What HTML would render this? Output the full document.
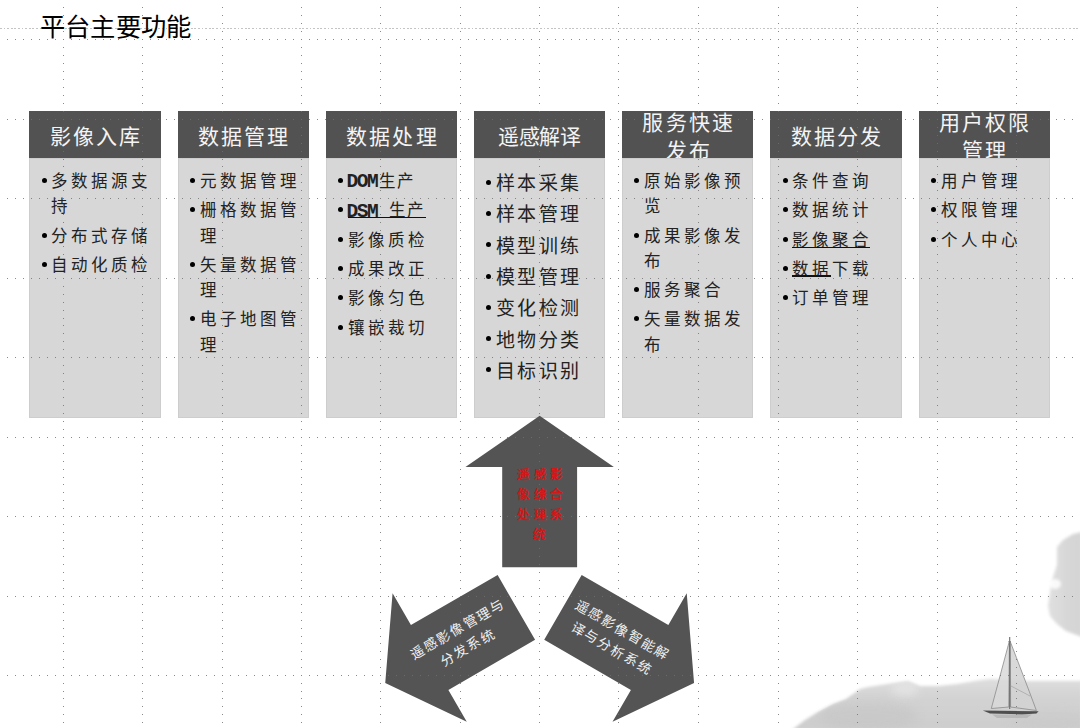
<!DOCTYPE html><html lang="zh-CN"><head><meta charset="utf-8"><title>平台主要功能</title><style>
*{margin:0;padding:0;box-sizing:border-box}
html,body{width:1080px;height:728px;overflow:hidden;background:#fff}
body{position:relative;font-family:"Liberation Sans", sans-serif}
.a{position:absolute}
.hd{position:absolute;background:#525252}
.bd{position:absolute;background:#d7d7d7;border:1px solid #cdcdcd}
.j{position:absolute;white-space:nowrap;text-align:justify;text-align-last:justify;font-family:"Liberation Sans", sans-serif}
.h{color:#f4f4f4;font-size:21px;letter-spacing:2.2px;line-height:28px}
.t{color:#222}
.bu{position:absolute;width:5px;height:5px;border-radius:50%;background:#000}
.m{font-family:"Liberation Mono", monospace;font-weight:bold;letter-spacing:-1.5px;font-size:19.5px}
.u{position:absolute;height:1.5px;background:#111}
.title{position:absolute;left:39.6px;top:12.4px;font-size:25.3px;line-height:30px;color:#000}
.w{color:#f0f0f0;font-size:13.5px;letter-spacing:1.6px;line-height:21px}
.r{color:#d01818;font-size:12.5px;letter-spacing:3.5px;line-height:20px;font-weight:bold}
</style></head><body>
<svg class="a" style="left:0;top:0" width="1080" height="728" viewBox="0 0 1080 728">
<defs><filter id="bl" x="-20%" y="-20%" width="140%" height="140%"><feGaussianBlur stdDeviation="1.6"/></filter>
<filter id="bl2" x="-20%" y="-20%" width="140%" height="140%"><feGaussianBlur stdDeviation="0.6"/></filter>
<linearGradient id="gg" x1="0" y1="0" x2="0" y2="1"><stop offset="0" stop-color="#dedede"/><stop offset="0.35" stop-color="#d3d3d3"/><stop offset="1" stop-color="#cdcdcd"/></linearGradient>
<linearGradient id="gm" x1="0" y1="0" x2="1" y2="0"><stop offset="0" stop-color="#e0e0e0"/><stop offset="0.5" stop-color="#d8d8d8"/><stop offset="1" stop-color="#d4d4d4"/></linearGradient></defs>
<path filter="url(#bl)" fill="url(#gg)" d="M792 730 L805 720 L818 712 L833 704 L846 699 L860 689 L868 687 L894 683 L908 681 L920 686 L938 686 L957 684 L975 681 L990 679 L1027 681 L1082 681 L1082 730 Z"/>
<filter id="bl6" x="-50%" y="-50%" width="200%" height="200%"><feGaussianBlur stdDeviation="5"/></filter>
<clipPath id="gc"><path d="M792 730 L805 720 L818 712 L833 704 L846 699 L860 689 L868 687 L894 683 L908 681 L920 686 L938 686 L957 684 L975 681 L990 679 L1027 681 L1082 681 L1082 730 Z"/></clipPath>
<g clip-path="url(#gc)">
<ellipse cx="868" cy="716" rx="50" ry="14" fill="#c4c4c4" opacity="0.55" filter="url(#bl6)"/>
<ellipse cx="905" cy="689" rx="14" ry="7" fill="#e6e6e6" opacity="0.8" filter="url(#bl6)"/>
<ellipse cx="1050" cy="722" rx="40" ry="10" fill="#c8c8c8" opacity="0.5" filter="url(#bl6)"/>
</g>
<path filter="url(#bl)" fill="url(#gm)" d="M1082 532 L1073 534 L1063 540 L1057 547 L1057 565 L1053 577 L1050 592 L1048 606 L1050 616 L1057 624 L1066 631 L1082 637 Z"/>
<ellipse cx="1055" cy="584" rx="6" ry="5" fill="#fff" opacity="0.85" filter="url(#bl)"/>
<g filter="url(#bl2)">
<path fill="#d9d9d9" fill-opacity="0.85" stroke="#8a8a8a" stroke-width="0.8" d="M1009.4 641 L991.3 708.5 L1008.8 707 Z"/>
<path fill="#d2d2d2" fill-opacity="0.85" stroke="#8a8a8a" stroke-width="0.8" d="M1010.4 642 Q1022 672 1036.4 710.5 L1010.6 707 Z"/>
<path fill="none" stroke="#9a9a9a" stroke-width="0.6" d="M1011 686 L1030 696"/>
<path fill="none" stroke="#6a6a6a" stroke-width="1.1" d="M1009.7 637 L1009.7 709"/>
<path fill="none" stroke="#777" stroke-width="0.8" d="M1008.5 641.5 L1011 641.5"/>
<path fill="#505050" d="M982.8 710.6 L1038.6 711.2 L1036.5 713.6 L1022 714.4 L990 713.6 Z"/>
<path fill="#a8a8a8" opacity="0.6" d="M992 714.5 L1032 714.5 L1027 718 L997 718 Z"/>
</g>
</svg>
<div class="hd" style="left:29.30px;top:110.7px;width:131.3px;height:48.30px"></div>
<div class="j h" style="left:49.65px;top:122.70px;width:92.80px;font-size:21px;letter-spacing:2.2px;line-height:28.00px">影像入库</div>
<div class="bd" style="left:29.30px;top:157.5px;width:131.3px;height:260.20px"></div>
<div class="bu" style="left:41.60px;top:178.10px"></div>
<div class="j t" style="left:51.30px;top:170.05px;width:97.50px;font-size:16.5px;letter-spacing:3.0px;line-height:23.10px">多数据源支</div>
<div class="j t" style="left:51.30px;top:195.25px;width:19.50px;font-size:16.5px;letter-spacing:3.0px;line-height:23.10px">持</div>
<div class="bu" style="left:41.60px;top:232.60px"></div>
<div class="j t" style="left:51.30px;top:224.55px;width:97.50px;font-size:16.5px;letter-spacing:3.0px;line-height:23.10px">分布式存储</div>
<div class="bu" style="left:41.60px;top:261.90px"></div>
<div class="j t" style="left:51.30px;top:253.85px;width:97.50px;font-size:16.5px;letter-spacing:3.0px;line-height:23.10px">自动化质检</div>
<div class="hd" style="left:177.50px;top:110.7px;width:131.3px;height:48.30px"></div>
<div class="j h" style="left:197.85px;top:122.70px;width:92.80px;font-size:21px;letter-spacing:2.2px;line-height:28.00px">数据管理</div>
<div class="bd" style="left:177.50px;top:157.5px;width:131.3px;height:260.20px"></div>
<div class="bu" style="left:189.80px;top:178.10px"></div>
<div class="j t" style="left:199.50px;top:170.05px;width:97.50px;font-size:16.5px;letter-spacing:3.0px;line-height:23.10px">元数据管理</div>
<div class="bu" style="left:189.80px;top:207.40px"></div>
<div class="j t" style="left:199.50px;top:199.35px;width:97.50px;font-size:16.5px;letter-spacing:3.0px;line-height:23.10px">栅格数据管</div>
<div class="j t" style="left:199.50px;top:224.55px;width:19.50px;font-size:16.5px;letter-spacing:3.0px;line-height:23.10px">理</div>
<div class="bu" style="left:189.80px;top:261.90px"></div>
<div class="j t" style="left:199.50px;top:253.85px;width:97.50px;font-size:16.5px;letter-spacing:3.0px;line-height:23.10px">矢量数据管</div>
<div class="j t" style="left:199.50px;top:279.05px;width:19.50px;font-size:16.5px;letter-spacing:3.0px;line-height:23.10px">理</div>
<div class="bu" style="left:189.80px;top:316.40px"></div>
<div class="j t" style="left:199.50px;top:308.35px;width:97.50px;font-size:16.5px;letter-spacing:3.0px;line-height:23.10px">电子地图管</div>
<div class="j t" style="left:199.50px;top:333.55px;width:19.50px;font-size:16.5px;letter-spacing:3.0px;line-height:23.10px">理</div>
<div class="hd" style="left:325.70px;top:110.7px;width:131.3px;height:48.30px"></div>
<div class="j h" style="left:346.05px;top:122.70px;width:92.80px;font-size:21px;letter-spacing:2.2px;line-height:28.00px">数据处理</div>
<div class="bd" style="left:325.70px;top:157.5px;width:131.3px;height:260.20px"></div>
<div class="bu" style="left:338.00px;top:178.10px"></div>
<div class="j t" style="left:346.50px;top:170.35px;line-height:23.10px;text-align:left;text-align-last:left"><span class="m">DOM</span></div>
<div class="j t" style="left:378.70px;top:170.05px;width:36.60px;font-size:16.5px;letter-spacing:1.8px;line-height:23.10px">生产</div>
<div class="bu" style="left:338.00px;top:207.40px"></div>
<div class="j t" style="left:346.50px;top:199.65px;line-height:23.10px;text-align:left;text-align-last:left"><span class="m">DSM</span></div>
<div class="j t" style="left:389.20px;top:199.35px;width:35.40px;font-size:16.5px;letter-spacing:1.2px;line-height:23.10px">生产</div>
<div class="u" style="left:348.20px;top:216.50px;width:77.7px"></div>
<div class="bu" style="left:338.00px;top:236.70px"></div>
<div class="j t" style="left:347.70px;top:228.65px;width:78.00px;font-size:16.5px;letter-spacing:3.0px;line-height:23.10px">影像质检</div>
<div class="bu" style="left:338.00px;top:266.00px"></div>
<div class="j t" style="left:347.70px;top:257.95px;width:78.00px;font-size:16.5px;letter-spacing:3.0px;line-height:23.10px">成果改正</div>
<div class="bu" style="left:338.00px;top:295.30px"></div>
<div class="j t" style="left:347.70px;top:287.25px;width:78.00px;font-size:16.5px;letter-spacing:3.0px;line-height:23.10px">影像匀色</div>
<div class="bu" style="left:338.00px;top:324.60px"></div>
<div class="j t" style="left:347.70px;top:316.55px;width:78.00px;font-size:16.5px;letter-spacing:3.0px;line-height:23.10px">镶嵌裁切</div>
<div class="hd" style="left:473.90px;top:110.7px;width:131.3px;height:48.30px"></div>
<div class="j h" style="left:498.30px;top:122.70px;width:82.00px;font-size:21px;letter-spacing:-0.5px;line-height:28.00px">遥感解译</div>
<div class="bd" style="left:473.90px;top:157.5px;width:131.3px;height:260.20px"></div>
<div class="bu" style="left:486.20px;top:179.60px"></div>
<div class="j t" style="left:495.90px;top:171.00px;width:85.60px;font-size:19.0px;letter-spacing:2.4px;line-height:26.60px">样本采集</div>
<div class="bu" style="left:486.20px;top:210.90px"></div>
<div class="j t" style="left:495.90px;top:202.30px;width:85.60px;font-size:19.0px;letter-spacing:2.4px;line-height:26.60px">样本管理</div>
<div class="bu" style="left:486.20px;top:242.20px"></div>
<div class="j t" style="left:495.90px;top:233.60px;width:85.60px;font-size:19.0px;letter-spacing:2.4px;line-height:26.60px">模型训练</div>
<div class="bu" style="left:486.20px;top:273.50px"></div>
<div class="j t" style="left:495.90px;top:264.90px;width:85.60px;font-size:19.0px;letter-spacing:2.4px;line-height:26.60px">模型管理</div>
<div class="bu" style="left:486.20px;top:304.80px"></div>
<div class="j t" style="left:495.90px;top:296.20px;width:85.60px;font-size:19.0px;letter-spacing:2.4px;line-height:26.60px">变化检测</div>
<div class="bu" style="left:486.20px;top:336.10px"></div>
<div class="j t" style="left:495.90px;top:327.50px;width:85.60px;font-size:19.0px;letter-spacing:2.4px;line-height:26.60px">地物分类</div>
<div class="bu" style="left:486.20px;top:367.40px"></div>
<div class="j t" style="left:495.90px;top:358.80px;width:85.60px;font-size:19.0px;letter-spacing:2.4px;line-height:26.60px">目标识别</div>
<div class="hd" style="left:622.10px;top:110.7px;width:131.3px;height:48.30px"></div>
<div class="j h" style="left:642.45px;top:108.70px;width:92.80px;font-size:21px;letter-spacing:2.2px;line-height:28.00px">服务快速</div>
<div class="j h" style="left:665.65px;top:136.70px;width:46.40px;font-size:21px;letter-spacing:2.2px;line-height:28.00px">发布</div>
<div class="bd" style="left:622.10px;top:157.5px;width:131.3px;height:260.20px"></div>
<div class="bu" style="left:634.40px;top:178.10px"></div>
<div class="j t" style="left:644.10px;top:170.05px;width:97.50px;font-size:16.5px;letter-spacing:3.0px;line-height:23.10px">原始影像预</div>
<div class="j t" style="left:644.10px;top:195.25px;width:19.50px;font-size:16.5px;letter-spacing:3.0px;line-height:23.10px">览</div>
<div class="bu" style="left:634.40px;top:232.60px"></div>
<div class="j t" style="left:644.10px;top:224.55px;width:97.50px;font-size:16.5px;letter-spacing:3.0px;line-height:23.10px">成果影像发</div>
<div class="j t" style="left:644.10px;top:249.75px;width:19.50px;font-size:16.5px;letter-spacing:3.0px;line-height:23.10px">布</div>
<div class="bu" style="left:634.40px;top:287.10px"></div>
<div class="j t" style="left:644.10px;top:279.05px;width:78.00px;font-size:16.5px;letter-spacing:3.0px;line-height:23.10px">服务聚合</div>
<div class="bu" style="left:634.40px;top:316.40px"></div>
<div class="j t" style="left:644.10px;top:308.35px;width:97.50px;font-size:16.5px;letter-spacing:3.0px;line-height:23.10px">矢量数据发</div>
<div class="j t" style="left:644.10px;top:333.55px;width:19.50px;font-size:16.5px;letter-spacing:3.0px;line-height:23.10px">布</div>
<div class="hd" style="left:770.30px;top:110.7px;width:131.3px;height:48.30px"></div>
<div class="j h" style="left:790.65px;top:122.70px;width:92.80px;font-size:21px;letter-spacing:2.2px;line-height:28.00px">数据分发</div>
<div class="bd" style="left:770.30px;top:157.5px;width:131.3px;height:260.20px"></div>
<div class="bu" style="left:782.60px;top:178.10px"></div>
<div class="j t" style="left:792.30px;top:170.05px;width:78.00px;font-size:16.5px;letter-spacing:3.0px;line-height:23.10px">条件查询</div>
<div class="bu" style="left:782.60px;top:207.40px"></div>
<div class="j t" style="left:792.30px;top:199.35px;width:78.00px;font-size:16.5px;letter-spacing:3.0px;line-height:23.10px">数据统计</div>
<div class="bu" style="left:782.60px;top:236.70px"></div>
<div class="j t" style="left:792.30px;top:228.65px;width:78.00px;font-size:16.5px;letter-spacing:3.0px;line-height:23.10px">影像聚合</div>
<div class="u" style="left:792.30px;top:246.60px;width:78px"></div>
<div class="bu" style="left:782.60px;top:266.00px"></div>
<div class="j t" style="left:792.30px;top:257.95px;width:78.00px;font-size:16.5px;letter-spacing:3.0px;line-height:23.10px">数据下载</div>
<div class="u" style="left:792.30px;top:275.00px;width:38.5px"></div>
<div class="bu" style="left:782.60px;top:295.30px"></div>
<div class="j t" style="left:792.30px;top:287.25px;width:78.00px;font-size:16.5px;letter-spacing:3.0px;line-height:23.10px">订单管理</div>
<div class="hd" style="left:918.50px;top:110.7px;width:131.3px;height:48.30px"></div>
<div class="j h" style="left:938.85px;top:108.70px;width:92.80px;font-size:21px;letter-spacing:2.2px;line-height:28.00px">用户权限</div>
<div class="j h" style="left:962.05px;top:136.70px;width:46.40px;font-size:21px;letter-spacing:2.2px;line-height:28.00px">管理</div>
<div class="bd" style="left:918.50px;top:157.5px;width:131.3px;height:260.20px"></div>
<div class="bu" style="left:930.80px;top:178.10px"></div>
<div class="j t" style="left:940.50px;top:170.05px;width:78.00px;font-size:16.5px;letter-spacing:3.0px;line-height:23.10px">用户管理</div>
<div class="bu" style="left:930.80px;top:207.40px"></div>
<div class="j t" style="left:940.50px;top:199.35px;width:78.00px;font-size:16.5px;letter-spacing:3.0px;line-height:23.10px">权限管理</div>
<div class="bu" style="left:930.80px;top:236.70px"></div>
<div class="j t" style="left:940.50px;top:228.65px;width:78.00px;font-size:16.5px;letter-spacing:3.0px;line-height:23.10px">个人中心</div>
<svg class="a" style="left:0;top:0" width="1080" height="728" viewBox="0 0 1080 728">
<polygon fill="#545454" points="539.65,415.80 613.85,467.10 577.10,467.10 577.10,567.20 502.20,567.20 502.20,467.10 465.45,467.10"/>
<polygon fill="#545454" points="385.24,683.10 392.57,593.19 410.94,625.02 497.63,574.97 535.08,639.83 448.39,689.88 466.77,721.71"/>
<polygon fill="#545454" points="694.06,683.10 612.53,721.71 630.91,689.88 544.22,639.83 581.67,574.97 668.36,625.02 686.73,593.19"/>
</svg>
<div class="j r" style="left:517.35px;top:464.80px;width:48.00px;font-size:12.5px;letter-spacing:3.5px;line-height:20.00px">遥感影</div>
<div class="j r" style="left:517.35px;top:484.80px;width:48.00px;font-size:12.5px;letter-spacing:3.5px;line-height:20.00px">像综合</div>
<div class="j r" style="left:517.35px;top:504.80px;width:48.00px;font-size:12.5px;letter-spacing:3.5px;line-height:20.00px">处理系</div>
<div class="j r" style="left:533.35px;top:524.80px;width:16.00px;font-size:12.5px;letter-spacing:3.5px;line-height:20.00px">统</div>
<div class="a" style="left:392.40px;top:618.20px;width:140px;height:42px;transform:rotate(-30deg)">
<div class="j w" style="left:17.95px;top:0.00px;width:105.70px;font-size:13.5px;letter-spacing:1.6px;line-height:21.00px">遥感影像管理与</div>
<div class="j w" style="left:40.60px;top:21.00px;width:60.40px;font-size:13.5px;letter-spacing:1.6px;line-height:21.00px">分发系统</div>
</div>
<div class="a" style="left:545.90px;top:617.75px;width:140px;height:42px;transform:rotate(30deg)">
<div class="j w" style="left:17.95px;top:0.00px;width:105.70px;font-size:13.5px;letter-spacing:1.6px;line-height:21.00px">遥感影像智能解</div>
<div class="j w" style="left:25.50px;top:21.00px;width:90.60px;font-size:13.5px;letter-spacing:1.6px;line-height:21.00px">译与分析系统</div>
</div>
<svg class="a" style="left:0;top:0" width="1080" height="728" viewBox="0 0 1080 728" shape-rendering="crispEdges">
<line x1="0" y1="28.5" x2="1080" y2="28.5" stroke="#c4c4c4" stroke-width="1" stroke-dasharray="1.8 1.8"/>
<path fill="#6f6f6f" fill-opacity="0.815" d="M7 39h1v1h-1zM7 119h1v1h-1zM7 198h1v1h-1zM7 278h1v1h-1zM7 357h1v1h-1zM7 437h1v1h-1zM7 516h1v1h-1zM7 596h1v1h-1zM7 675h1v1h-1zM15 39h1v1h-1zM15 119h1v1h-1zM15 198h1v1h-1zM15 278h1v1h-1zM15 357h1v1h-1zM15 437h1v1h-1zM15 516h1v1h-1zM15 596h1v1h-1zM15 675h1v1h-1zM23 39h1v1h-1zM23 119h1v1h-1zM23 198h1v1h-1zM23 278h1v1h-1zM23 357h1v1h-1zM23 437h1v1h-1zM23 516h1v1h-1zM23 596h1v1h-1zM23 675h1v1h-1zM31 39h1v1h-1zM31 119h1v1h-1zM31 198h1v1h-1zM31 278h1v1h-1zM31 357h1v1h-1zM31 437h1v1h-1zM31 516h1v1h-1zM31 596h1v1h-1zM31 675h1v1h-1zM39 39h1v1h-1zM39 119h1v1h-1zM39 198h1v1h-1zM39 278h1v1h-1zM39 357h1v1h-1zM39 437h1v1h-1zM39 516h1v1h-1zM39 596h1v1h-1zM39 675h1v1h-1zM47 39h1v1h-1zM47 119h1v1h-1zM47 198h1v1h-1zM47 278h1v1h-1zM47 357h1v1h-1zM47 437h1v1h-1zM47 516h1v1h-1zM47 596h1v1h-1zM47 675h1v1h-1zM55 39h1v1h-1zM55 119h1v1h-1zM55 198h1v1h-1zM55 278h1v1h-1zM55 357h1v1h-1zM55 437h1v1h-1zM55 516h1v1h-1zM55 596h1v1h-1zM55 675h1v1h-1zM63 7h1v1h-1zM63 15h1v1h-1zM63 23h1v1h-1zM63 31h1v1h-1zM63 39h1v1h-1zM63 47h1v1h-1zM63 55h1v1h-1zM63 63h1v1h-1zM63 71h1v1h-1zM63 79h1v1h-1zM63 87h1v1h-1zM63 95h1v1h-1zM63 103h1v1h-1zM63 111h1v1h-1zM63 119h1v1h-1zM63 127h1v1h-1zM63 135h1v1h-1zM63 143h1v1h-1zM63 151h1v1h-1zM63 159h1v1h-1zM63 166h1v1h-1zM63 174h1v1h-1zM63 182h1v1h-1zM63 190h1v1h-1zM63 198h1v1h-1zM63 206h1v1h-1zM63 214h1v1h-1zM63 222h1v1h-1zM63 230h1v1h-1zM63 238h1v1h-1zM63 246h1v1h-1zM63 254h1v1h-1zM63 262h1v1h-1zM63 270h1v1h-1zM63 278h1v1h-1zM63 286h1v1h-1zM63 294h1v1h-1zM63 302h1v1h-1zM63 310h1v1h-1zM63 318h1v1h-1zM63 325h1v1h-1zM63 333h1v1h-1zM63 341h1v1h-1zM63 349h1v1h-1zM63 357h1v1h-1zM63 365h1v1h-1zM63 373h1v1h-1zM63 381h1v1h-1zM63 389h1v1h-1zM63 397h1v1h-1zM63 405h1v1h-1zM63 413h1v1h-1zM63 421h1v1h-1zM63 429h1v1h-1zM63 437h1v1h-1zM63 445h1v1h-1zM63 453h1v1h-1zM63 461h1v1h-1zM63 469h1v1h-1zM63 477h1v1h-1zM63 484h1v1h-1zM63 492h1v1h-1zM63 500h1v1h-1zM63 508h1v1h-1zM63 516h1v1h-1zM63 524h1v1h-1zM63 532h1v1h-1zM63 540h1v1h-1zM63 548h1v1h-1zM63 556h1v1h-1zM63 564h1v1h-1zM63 572h1v1h-1zM63 580h1v1h-1zM63 588h1v1h-1zM63 596h1v1h-1zM63 604h1v1h-1zM63 612h1v1h-1zM63 620h1v1h-1zM63 628h1v1h-1zM63 636h1v1h-1zM63 643h1v1h-1zM63 651h1v1h-1zM63 659h1v1h-1zM63 667h1v1h-1zM63 675h1v1h-1zM63 683h1v1h-1zM63 691h1v1h-1zM63 698h1v1h-1zM63 706h1v1h-1zM63 714h1v1h-1zM63 722h1v1h-1zM71 39h1v1h-1zM71 119h1v1h-1zM71 198h1v1h-1zM71 278h1v1h-1zM71 357h1v1h-1zM71 437h1v1h-1zM71 516h1v1h-1zM71 596h1v1h-1zM71 675h1v1h-1zM79 39h1v1h-1zM79 119h1v1h-1zM79 198h1v1h-1zM79 278h1v1h-1zM79 357h1v1h-1zM79 437h1v1h-1zM79 516h1v1h-1zM79 596h1v1h-1zM79 675h1v1h-1zM87 39h1v1h-1zM87 119h1v1h-1zM87 198h1v1h-1zM87 278h1v1h-1zM87 357h1v1h-1zM87 437h1v1h-1zM87 516h1v1h-1zM87 596h1v1h-1zM87 675h1v1h-1zM95 39h1v1h-1zM95 119h1v1h-1zM95 198h1v1h-1zM95 278h1v1h-1zM95 357h1v1h-1zM95 437h1v1h-1zM95 516h1v1h-1zM95 596h1v1h-1zM95 675h1v1h-1zM103 39h1v1h-1zM103 119h1v1h-1zM103 198h1v1h-1zM103 278h1v1h-1zM103 357h1v1h-1zM103 437h1v1h-1zM103 516h1v1h-1zM103 596h1v1h-1zM103 675h1v1h-1zM110 39h1v1h-1zM110 119h1v1h-1zM110 198h1v1h-1zM110 278h1v1h-1zM110 357h1v1h-1zM110 437h1v1h-1zM110 516h1v1h-1zM110 596h1v1h-1zM110 675h1v1h-1zM118 39h1v1h-1zM118 119h1v1h-1zM118 198h1v1h-1zM118 278h1v1h-1zM118 357h1v1h-1zM118 437h1v1h-1zM118 516h1v1h-1zM118 596h1v1h-1zM118 675h1v1h-1zM126 39h1v1h-1zM126 119h1v1h-1zM126 198h1v1h-1zM126 278h1v1h-1zM126 357h1v1h-1zM126 437h1v1h-1zM126 516h1v1h-1zM126 596h1v1h-1zM126 675h1v1h-1zM134 39h1v1h-1zM134 119h1v1h-1zM134 198h1v1h-1zM134 278h1v1h-1zM134 357h1v1h-1zM134 437h1v1h-1zM134 516h1v1h-1zM134 596h1v1h-1zM134 675h1v1h-1zM142 7h1v1h-1zM142 15h1v1h-1zM142 23h1v1h-1zM142 31h1v1h-1zM142 39h1v1h-1zM142 47h1v1h-1zM142 55h1v1h-1zM142 63h1v1h-1zM142 71h1v1h-1zM142 79h1v1h-1zM142 87h1v1h-1zM142 95h1v1h-1zM142 103h1v1h-1zM142 111h1v1h-1zM142 119h1v1h-1zM142 127h1v1h-1zM142 135h1v1h-1zM142 143h1v1h-1zM142 151h1v1h-1zM142 159h1v1h-1zM142 166h1v1h-1zM142 174h1v1h-1zM142 182h1v1h-1zM142 190h1v1h-1zM142 198h1v1h-1zM142 206h1v1h-1zM142 214h1v1h-1zM142 222h1v1h-1zM142 230h1v1h-1zM142 238h1v1h-1zM142 246h1v1h-1zM142 254h1v1h-1zM142 262h1v1h-1zM142 270h1v1h-1zM142 278h1v1h-1zM142 286h1v1h-1zM142 294h1v1h-1zM142 302h1v1h-1zM142 310h1v1h-1zM142 318h1v1h-1zM142 325h1v1h-1zM142 333h1v1h-1zM142 341h1v1h-1zM142 349h1v1h-1zM142 357h1v1h-1zM142 365h1v1h-1zM142 373h1v1h-1zM142 381h1v1h-1zM142 389h1v1h-1zM142 397h1v1h-1zM142 405h1v1h-1zM142 413h1v1h-1zM142 421h1v1h-1zM142 429h1v1h-1zM142 437h1v1h-1zM142 445h1v1h-1zM142 453h1v1h-1zM142 461h1v1h-1zM142 469h1v1h-1zM142 477h1v1h-1zM142 484h1v1h-1zM142 492h1v1h-1zM142 500h1v1h-1zM142 508h1v1h-1zM142 516h1v1h-1zM142 524h1v1h-1zM142 532h1v1h-1zM142 540h1v1h-1zM142 548h1v1h-1zM142 556h1v1h-1zM142 564h1v1h-1zM142 572h1v1h-1zM142 580h1v1h-1zM142 588h1v1h-1zM142 596h1v1h-1zM142 604h1v1h-1zM142 612h1v1h-1zM142 620h1v1h-1zM142 628h1v1h-1zM142 636h1v1h-1zM142 643h1v1h-1zM142 651h1v1h-1zM142 659h1v1h-1zM142 667h1v1h-1zM142 675h1v1h-1zM142 683h1v1h-1zM142 691h1v1h-1zM142 698h1v1h-1zM142 706h1v1h-1zM142 714h1v1h-1zM142 722h1v1h-1zM150 39h1v1h-1zM150 119h1v1h-1zM150 198h1v1h-1zM150 278h1v1h-1zM150 357h1v1h-1zM150 437h1v1h-1zM150 516h1v1h-1zM150 596h1v1h-1zM150 675h1v1h-1zM158 39h1v1h-1zM158 119h1v1h-1zM158 198h1v1h-1zM158 278h1v1h-1zM158 357h1v1h-1zM158 437h1v1h-1zM158 516h1v1h-1zM158 596h1v1h-1zM158 675h1v1h-1zM166 39h1v1h-1zM166 119h1v1h-1zM166 198h1v1h-1zM166 278h1v1h-1zM166 357h1v1h-1zM166 437h1v1h-1zM166 516h1v1h-1zM166 596h1v1h-1zM166 675h1v1h-1zM174 39h1v1h-1zM174 119h1v1h-1zM174 198h1v1h-1zM174 278h1v1h-1zM174 357h1v1h-1zM174 437h1v1h-1zM174 516h1v1h-1zM174 596h1v1h-1zM174 675h1v1h-1zM182 39h1v1h-1zM182 119h1v1h-1zM182 198h1v1h-1zM182 278h1v1h-1zM182 357h1v1h-1zM182 437h1v1h-1zM182 516h1v1h-1zM182 596h1v1h-1zM182 675h1v1h-1zM190 39h1v1h-1zM190 119h1v1h-1zM190 198h1v1h-1zM190 278h1v1h-1zM190 357h1v1h-1zM190 437h1v1h-1zM190 516h1v1h-1zM190 596h1v1h-1zM190 675h1v1h-1zM198 39h1v1h-1zM198 119h1v1h-1zM198 198h1v1h-1zM198 278h1v1h-1zM198 357h1v1h-1zM198 437h1v1h-1zM198 516h1v1h-1zM198 596h1v1h-1zM198 675h1v1h-1zM206 39h1v1h-1zM206 119h1v1h-1zM206 198h1v1h-1zM206 278h1v1h-1zM206 357h1v1h-1zM206 437h1v1h-1zM206 516h1v1h-1zM206 596h1v1h-1zM206 675h1v1h-1zM214 39h1v1h-1zM214 119h1v1h-1zM214 198h1v1h-1zM214 278h1v1h-1zM214 357h1v1h-1zM214 437h1v1h-1zM214 516h1v1h-1zM214 596h1v1h-1zM214 675h1v1h-1zM222 7h1v1h-1zM222 15h1v1h-1zM222 23h1v1h-1zM222 31h1v1h-1zM222 39h1v1h-1zM222 47h1v1h-1zM222 55h1v1h-1zM222 63h1v1h-1zM222 71h1v1h-1zM222 79h1v1h-1zM222 87h1v1h-1zM222 95h1v1h-1zM222 103h1v1h-1zM222 111h1v1h-1zM222 119h1v1h-1zM222 127h1v1h-1zM222 135h1v1h-1zM222 143h1v1h-1zM222 151h1v1h-1zM222 159h1v1h-1zM222 166h1v1h-1zM222 174h1v1h-1zM222 182h1v1h-1zM222 190h1v1h-1zM222 198h1v1h-1zM222 206h1v1h-1zM222 214h1v1h-1zM222 222h1v1h-1zM222 230h1v1h-1zM222 238h1v1h-1zM222 246h1v1h-1zM222 254h1v1h-1zM222 262h1v1h-1zM222 270h1v1h-1zM222 278h1v1h-1zM222 286h1v1h-1zM222 294h1v1h-1zM222 302h1v1h-1zM222 310h1v1h-1zM222 318h1v1h-1zM222 325h1v1h-1zM222 333h1v1h-1zM222 341h1v1h-1zM222 349h1v1h-1zM222 357h1v1h-1zM222 365h1v1h-1zM222 373h1v1h-1zM222 381h1v1h-1zM222 389h1v1h-1zM222 397h1v1h-1zM222 405h1v1h-1zM222 413h1v1h-1zM222 421h1v1h-1zM222 429h1v1h-1zM222 437h1v1h-1zM222 445h1v1h-1zM222 453h1v1h-1zM222 461h1v1h-1zM222 469h1v1h-1zM222 477h1v1h-1zM222 484h1v1h-1zM222 492h1v1h-1zM222 500h1v1h-1zM222 508h1v1h-1zM222 516h1v1h-1zM222 524h1v1h-1zM222 532h1v1h-1zM222 540h1v1h-1zM222 548h1v1h-1zM222 556h1v1h-1zM222 564h1v1h-1zM222 572h1v1h-1zM222 580h1v1h-1zM222 588h1v1h-1zM222 596h1v1h-1zM222 604h1v1h-1zM222 612h1v1h-1zM222 620h1v1h-1zM222 628h1v1h-1zM222 636h1v1h-1zM222 643h1v1h-1zM222 651h1v1h-1zM222 659h1v1h-1zM222 667h1v1h-1zM222 675h1v1h-1zM222 683h1v1h-1zM222 691h1v1h-1zM222 698h1v1h-1zM222 706h1v1h-1zM222 714h1v1h-1zM222 722h1v1h-1zM230 39h1v1h-1zM230 119h1v1h-1zM230 198h1v1h-1zM230 278h1v1h-1zM230 357h1v1h-1zM230 437h1v1h-1zM230 516h1v1h-1zM230 596h1v1h-1zM230 675h1v1h-1zM238 39h1v1h-1zM238 119h1v1h-1zM238 198h1v1h-1zM238 278h1v1h-1zM238 357h1v1h-1zM238 437h1v1h-1zM238 516h1v1h-1zM238 596h1v1h-1zM238 675h1v1h-1zM246 39h1v1h-1zM246 119h1v1h-1zM246 198h1v1h-1zM246 278h1v1h-1zM246 357h1v1h-1zM246 437h1v1h-1zM246 516h1v1h-1zM246 596h1v1h-1zM246 675h1v1h-1zM254 39h1v1h-1zM254 119h1v1h-1zM254 198h1v1h-1zM254 278h1v1h-1zM254 357h1v1h-1zM254 437h1v1h-1zM254 516h1v1h-1zM254 596h1v1h-1zM254 675h1v1h-1zM262 39h1v1h-1zM262 119h1v1h-1zM262 198h1v1h-1zM262 278h1v1h-1zM262 357h1v1h-1zM262 437h1v1h-1zM262 516h1v1h-1zM262 596h1v1h-1zM262 675h1v1h-1zM269 39h1v1h-1zM269 119h1v1h-1zM269 198h1v1h-1zM269 278h1v1h-1zM269 357h1v1h-1zM269 437h1v1h-1zM269 516h1v1h-1zM269 596h1v1h-1zM269 675h1v1h-1zM277 39h1v1h-1zM277 119h1v1h-1zM277 198h1v1h-1zM277 278h1v1h-1zM277 357h1v1h-1zM277 437h1v1h-1zM277 516h1v1h-1zM277 596h1v1h-1zM277 675h1v1h-1zM285 39h1v1h-1zM285 119h1v1h-1zM285 198h1v1h-1zM285 278h1v1h-1zM285 357h1v1h-1zM285 437h1v1h-1zM285 516h1v1h-1zM285 596h1v1h-1zM285 675h1v1h-1zM293 39h1v1h-1zM293 119h1v1h-1zM293 198h1v1h-1zM293 278h1v1h-1zM293 357h1v1h-1zM293 437h1v1h-1zM293 516h1v1h-1zM293 596h1v1h-1zM293 675h1v1h-1zM301 7h1v1h-1zM301 15h1v1h-1zM301 23h1v1h-1zM301 31h1v1h-1zM301 39h1v1h-1zM301 47h1v1h-1zM301 55h1v1h-1zM301 63h1v1h-1zM301 71h1v1h-1zM301 79h1v1h-1zM301 87h1v1h-1zM301 95h1v1h-1zM301 103h1v1h-1zM301 111h1v1h-1zM301 119h1v1h-1zM301 127h1v1h-1zM301 135h1v1h-1zM301 143h1v1h-1zM301 151h1v1h-1zM301 159h1v1h-1zM301 166h1v1h-1zM301 174h1v1h-1zM301 182h1v1h-1zM301 190h1v1h-1zM301 198h1v1h-1zM301 206h1v1h-1zM301 214h1v1h-1zM301 222h1v1h-1zM301 230h1v1h-1zM301 238h1v1h-1zM301 246h1v1h-1zM301 254h1v1h-1zM301 262h1v1h-1zM301 270h1v1h-1zM301 278h1v1h-1zM301 286h1v1h-1zM301 294h1v1h-1zM301 302h1v1h-1zM301 310h1v1h-1zM301 318h1v1h-1zM301 325h1v1h-1zM301 333h1v1h-1zM301 341h1v1h-1zM301 349h1v1h-1zM301 357h1v1h-1zM301 365h1v1h-1zM301 373h1v1h-1zM301 381h1v1h-1zM301 389h1v1h-1zM301 397h1v1h-1zM301 405h1v1h-1zM301 413h1v1h-1zM301 421h1v1h-1zM301 429h1v1h-1zM301 437h1v1h-1zM301 445h1v1h-1zM301 453h1v1h-1zM301 461h1v1h-1zM301 469h1v1h-1zM301 477h1v1h-1zM301 484h1v1h-1zM301 492h1v1h-1zM301 500h1v1h-1zM301 508h1v1h-1zM301 516h1v1h-1zM301 524h1v1h-1zM301 532h1v1h-1zM301 540h1v1h-1zM301 548h1v1h-1zM301 556h1v1h-1zM301 564h1v1h-1zM301 572h1v1h-1zM301 580h1v1h-1zM301 588h1v1h-1zM301 596h1v1h-1zM301 604h1v1h-1zM301 612h1v1h-1zM301 620h1v1h-1zM301 628h1v1h-1zM301 636h1v1h-1zM301 643h1v1h-1zM301 651h1v1h-1zM301 659h1v1h-1zM301 667h1v1h-1zM301 675h1v1h-1zM301 683h1v1h-1zM301 691h1v1h-1zM301 698h1v1h-1zM301 706h1v1h-1zM301 714h1v1h-1zM301 722h1v1h-1zM309 39h1v1h-1zM309 119h1v1h-1zM309 198h1v1h-1zM309 278h1v1h-1zM309 357h1v1h-1zM309 437h1v1h-1zM309 516h1v1h-1zM309 596h1v1h-1zM309 675h1v1h-1zM317 39h1v1h-1zM317 119h1v1h-1zM317 198h1v1h-1zM317 278h1v1h-1zM317 357h1v1h-1zM317 437h1v1h-1zM317 516h1v1h-1zM317 596h1v1h-1zM317 675h1v1h-1zM325 39h1v1h-1zM325 119h1v1h-1zM325 198h1v1h-1zM325 278h1v1h-1zM325 357h1v1h-1zM325 437h1v1h-1zM325 516h1v1h-1zM325 596h1v1h-1zM325 675h1v1h-1zM333 39h1v1h-1zM333 119h1v1h-1zM333 198h1v1h-1zM333 278h1v1h-1zM333 357h1v1h-1zM333 437h1v1h-1zM333 516h1v1h-1zM333 596h1v1h-1zM333 675h1v1h-1zM341 39h1v1h-1zM341 119h1v1h-1zM341 198h1v1h-1zM341 278h1v1h-1zM341 357h1v1h-1zM341 437h1v1h-1zM341 516h1v1h-1zM341 596h1v1h-1zM341 675h1v1h-1zM348 39h1v1h-1zM348 119h1v1h-1zM348 198h1v1h-1zM348 278h1v1h-1zM348 357h1v1h-1zM348 437h1v1h-1zM348 516h1v1h-1zM348 596h1v1h-1zM348 675h1v1h-1zM356 39h1v1h-1zM356 119h1v1h-1zM356 198h1v1h-1zM356 278h1v1h-1zM356 357h1v1h-1zM356 437h1v1h-1zM356 516h1v1h-1zM356 596h1v1h-1zM356 675h1v1h-1zM364 39h1v1h-1zM364 119h1v1h-1zM364 198h1v1h-1zM364 278h1v1h-1zM364 357h1v1h-1zM364 437h1v1h-1zM364 516h1v1h-1zM364 596h1v1h-1zM364 675h1v1h-1zM372 39h1v1h-1zM372 119h1v1h-1zM372 198h1v1h-1zM372 278h1v1h-1zM372 357h1v1h-1zM372 437h1v1h-1zM372 516h1v1h-1zM372 596h1v1h-1zM372 675h1v1h-1zM380 7h1v1h-1zM380 15h1v1h-1zM380 23h1v1h-1zM380 31h1v1h-1zM380 39h1v1h-1zM380 47h1v1h-1zM380 55h1v1h-1zM380 63h1v1h-1zM380 71h1v1h-1zM380 79h1v1h-1zM380 87h1v1h-1zM380 95h1v1h-1zM380 103h1v1h-1zM380 111h1v1h-1zM380 119h1v1h-1zM380 127h1v1h-1zM380 135h1v1h-1zM380 143h1v1h-1zM380 151h1v1h-1zM380 159h1v1h-1zM380 166h1v1h-1zM380 174h1v1h-1zM380 182h1v1h-1zM380 190h1v1h-1zM380 198h1v1h-1zM380 206h1v1h-1zM380 214h1v1h-1zM380 222h1v1h-1zM380 230h1v1h-1zM380 238h1v1h-1zM380 246h1v1h-1zM380 254h1v1h-1zM380 262h1v1h-1zM380 270h1v1h-1zM380 278h1v1h-1zM380 286h1v1h-1zM380 294h1v1h-1zM380 302h1v1h-1zM380 310h1v1h-1zM380 318h1v1h-1zM380 325h1v1h-1zM380 333h1v1h-1zM380 341h1v1h-1zM380 349h1v1h-1zM380 357h1v1h-1zM380 365h1v1h-1zM380 373h1v1h-1zM380 381h1v1h-1zM380 389h1v1h-1zM380 397h1v1h-1zM380 405h1v1h-1zM380 413h1v1h-1zM380 421h1v1h-1zM380 429h1v1h-1zM380 437h1v1h-1zM380 445h1v1h-1zM380 453h1v1h-1zM380 461h1v1h-1zM380 469h1v1h-1zM380 477h1v1h-1zM380 484h1v1h-1zM380 492h1v1h-1zM380 500h1v1h-1zM380 508h1v1h-1zM380 516h1v1h-1zM380 524h1v1h-1zM380 532h1v1h-1zM380 540h1v1h-1zM380 548h1v1h-1zM380 556h1v1h-1zM380 564h1v1h-1zM380 572h1v1h-1zM380 580h1v1h-1zM380 588h1v1h-1zM380 596h1v1h-1zM380 604h1v1h-1zM380 612h1v1h-1zM380 620h1v1h-1zM380 628h1v1h-1zM380 636h1v1h-1zM380 643h1v1h-1zM380 651h1v1h-1zM380 659h1v1h-1zM380 667h1v1h-1zM380 675h1v1h-1zM380 683h1v1h-1zM380 691h1v1h-1zM380 698h1v1h-1zM380 706h1v1h-1zM380 714h1v1h-1zM380 722h1v1h-1zM388 39h1v1h-1zM388 119h1v1h-1zM388 198h1v1h-1zM388 278h1v1h-1zM388 357h1v1h-1zM388 437h1v1h-1zM388 516h1v1h-1zM388 596h1v1h-1zM388 675h1v1h-1zM396 39h1v1h-1zM396 119h1v1h-1zM396 198h1v1h-1zM396 278h1v1h-1zM396 357h1v1h-1zM396 437h1v1h-1zM396 516h1v1h-1zM396 596h1v1h-1zM396 675h1v1h-1zM404 39h1v1h-1zM404 119h1v1h-1zM404 198h1v1h-1zM404 278h1v1h-1zM404 357h1v1h-1zM404 437h1v1h-1zM404 516h1v1h-1zM404 596h1v1h-1zM404 675h1v1h-1zM412 39h1v1h-1zM412 119h1v1h-1zM412 198h1v1h-1zM412 278h1v1h-1zM412 357h1v1h-1zM412 437h1v1h-1zM412 516h1v1h-1zM412 596h1v1h-1zM412 675h1v1h-1zM420 39h1v1h-1zM420 119h1v1h-1zM420 198h1v1h-1zM420 278h1v1h-1zM420 357h1v1h-1zM420 437h1v1h-1zM420 516h1v1h-1zM420 596h1v1h-1zM420 675h1v1h-1zM428 39h1v1h-1zM428 119h1v1h-1zM428 198h1v1h-1zM428 278h1v1h-1zM428 357h1v1h-1zM428 437h1v1h-1zM428 516h1v1h-1zM428 596h1v1h-1zM428 675h1v1h-1zM436 39h1v1h-1zM436 119h1v1h-1zM436 198h1v1h-1zM436 278h1v1h-1zM436 357h1v1h-1zM436 437h1v1h-1zM436 516h1v1h-1zM436 596h1v1h-1zM436 675h1v1h-1zM444 39h1v1h-1zM444 119h1v1h-1zM444 198h1v1h-1zM444 278h1v1h-1zM444 357h1v1h-1zM444 437h1v1h-1zM444 516h1v1h-1zM444 596h1v1h-1zM444 675h1v1h-1zM452 39h1v1h-1zM452 119h1v1h-1zM452 198h1v1h-1zM452 278h1v1h-1zM452 357h1v1h-1zM452 437h1v1h-1zM452 516h1v1h-1zM452 596h1v1h-1zM452 675h1v1h-1zM460 7h1v1h-1zM460 15h1v1h-1zM460 23h1v1h-1zM460 31h1v1h-1zM460 39h1v1h-1zM460 47h1v1h-1zM460 55h1v1h-1zM460 63h1v1h-1zM460 71h1v1h-1zM460 79h1v1h-1zM460 87h1v1h-1zM460 95h1v1h-1zM460 103h1v1h-1zM460 111h1v1h-1zM460 119h1v1h-1zM460 127h1v1h-1zM460 135h1v1h-1zM460 143h1v1h-1zM460 151h1v1h-1zM460 159h1v1h-1zM460 166h1v1h-1zM460 174h1v1h-1zM460 182h1v1h-1zM460 190h1v1h-1zM460 198h1v1h-1zM460 206h1v1h-1zM460 214h1v1h-1zM460 222h1v1h-1zM460 230h1v1h-1zM460 238h1v1h-1zM460 246h1v1h-1zM460 254h1v1h-1zM460 262h1v1h-1zM460 270h1v1h-1zM460 278h1v1h-1zM460 286h1v1h-1zM460 294h1v1h-1zM460 302h1v1h-1zM460 310h1v1h-1zM460 318h1v1h-1zM460 325h1v1h-1zM460 333h1v1h-1zM460 341h1v1h-1zM460 349h1v1h-1zM460 357h1v1h-1zM460 365h1v1h-1zM460 373h1v1h-1zM460 381h1v1h-1zM460 389h1v1h-1zM460 397h1v1h-1zM460 405h1v1h-1zM460 413h1v1h-1zM460 421h1v1h-1zM460 429h1v1h-1zM460 437h1v1h-1zM460 445h1v1h-1zM460 453h1v1h-1zM460 461h1v1h-1zM460 469h1v1h-1zM460 477h1v1h-1zM460 484h1v1h-1zM460 492h1v1h-1zM460 500h1v1h-1zM460 508h1v1h-1zM460 516h1v1h-1zM460 524h1v1h-1zM460 532h1v1h-1zM460 540h1v1h-1zM460 548h1v1h-1zM460 556h1v1h-1zM460 564h1v1h-1zM460 572h1v1h-1zM460 580h1v1h-1zM460 588h1v1h-1zM460 596h1v1h-1zM460 604h1v1h-1zM460 612h1v1h-1zM460 620h1v1h-1zM460 628h1v1h-1zM460 636h1v1h-1zM460 643h1v1h-1zM460 651h1v1h-1zM460 659h1v1h-1zM460 667h1v1h-1zM460 675h1v1h-1zM460 683h1v1h-1zM460 691h1v1h-1zM460 698h1v1h-1zM460 706h1v1h-1zM460 714h1v1h-1zM460 722h1v1h-1zM468 39h1v1h-1zM468 119h1v1h-1zM468 198h1v1h-1zM468 278h1v1h-1zM468 357h1v1h-1zM468 437h1v1h-1zM468 516h1v1h-1zM468 596h1v1h-1zM468 675h1v1h-1zM476 39h1v1h-1zM476 119h1v1h-1zM476 198h1v1h-1zM476 278h1v1h-1zM476 357h1v1h-1zM476 437h1v1h-1zM476 516h1v1h-1zM476 596h1v1h-1zM476 675h1v1h-1zM484 39h1v1h-1zM484 119h1v1h-1zM484 198h1v1h-1zM484 278h1v1h-1zM484 357h1v1h-1zM484 437h1v1h-1zM484 516h1v1h-1zM484 596h1v1h-1zM484 675h1v1h-1zM492 39h1v1h-1zM492 119h1v1h-1zM492 198h1v1h-1zM492 278h1v1h-1zM492 357h1v1h-1zM492 437h1v1h-1zM492 516h1v1h-1zM492 596h1v1h-1zM492 675h1v1h-1zM500 39h1v1h-1zM500 119h1v1h-1zM500 198h1v1h-1zM500 278h1v1h-1zM500 357h1v1h-1zM500 437h1v1h-1zM500 516h1v1h-1zM500 596h1v1h-1zM500 675h1v1h-1zM507 39h1v1h-1zM507 119h1v1h-1zM507 198h1v1h-1zM507 278h1v1h-1zM507 357h1v1h-1zM507 437h1v1h-1zM507 516h1v1h-1zM507 596h1v1h-1zM507 675h1v1h-1zM515 39h1v1h-1zM515 119h1v1h-1zM515 198h1v1h-1zM515 278h1v1h-1zM515 357h1v1h-1zM515 437h1v1h-1zM515 516h1v1h-1zM515 596h1v1h-1zM515 675h1v1h-1zM523 39h1v1h-1zM523 119h1v1h-1zM523 198h1v1h-1zM523 278h1v1h-1zM523 357h1v1h-1zM523 437h1v1h-1zM523 516h1v1h-1zM523 596h1v1h-1zM523 675h1v1h-1zM531 39h1v1h-1zM531 119h1v1h-1zM531 198h1v1h-1zM531 278h1v1h-1zM531 357h1v1h-1zM531 437h1v1h-1zM531 516h1v1h-1zM531 596h1v1h-1zM531 675h1v1h-1zM539 7h1v1h-1zM539 15h1v1h-1zM539 23h1v1h-1zM539 31h1v1h-1zM539 39h1v1h-1zM539 47h1v1h-1zM539 55h1v1h-1zM539 63h1v1h-1zM539 71h1v1h-1zM539 79h1v1h-1zM539 87h1v1h-1zM539 95h1v1h-1zM539 103h1v1h-1zM539 111h1v1h-1zM539 119h1v1h-1zM539 127h1v1h-1zM539 135h1v1h-1zM539 143h1v1h-1zM539 151h1v1h-1zM539 159h1v1h-1zM539 166h1v1h-1zM539 174h1v1h-1zM539 182h1v1h-1zM539 190h1v1h-1zM539 198h1v1h-1zM539 206h1v1h-1zM539 214h1v1h-1zM539 222h1v1h-1zM539 230h1v1h-1zM539 238h1v1h-1zM539 246h1v1h-1zM539 254h1v1h-1zM539 262h1v1h-1zM539 270h1v1h-1zM539 278h1v1h-1zM539 286h1v1h-1zM539 294h1v1h-1zM539 302h1v1h-1zM539 310h1v1h-1zM539 318h1v1h-1zM539 325h1v1h-1zM539 333h1v1h-1zM539 341h1v1h-1zM539 349h1v1h-1zM539 357h1v1h-1zM539 365h1v1h-1zM539 373h1v1h-1zM539 381h1v1h-1zM539 389h1v1h-1zM539 397h1v1h-1zM539 405h1v1h-1zM539 413h1v1h-1zM539 421h1v1h-1zM539 429h1v1h-1zM539 437h1v1h-1zM539 445h1v1h-1zM539 453h1v1h-1zM539 461h1v1h-1zM539 469h1v1h-1zM539 477h1v1h-1zM539 484h1v1h-1zM539 492h1v1h-1zM539 500h1v1h-1zM539 508h1v1h-1zM539 516h1v1h-1zM539 524h1v1h-1zM539 532h1v1h-1zM539 540h1v1h-1zM539 548h1v1h-1zM539 556h1v1h-1zM539 564h1v1h-1zM539 572h1v1h-1zM539 580h1v1h-1zM539 588h1v1h-1zM539 596h1v1h-1zM539 604h1v1h-1zM539 612h1v1h-1zM539 620h1v1h-1zM539 628h1v1h-1zM539 636h1v1h-1zM539 643h1v1h-1zM539 651h1v1h-1zM539 659h1v1h-1zM539 667h1v1h-1zM539 675h1v1h-1zM539 683h1v1h-1zM539 691h1v1h-1zM539 698h1v1h-1zM539 706h1v1h-1zM539 714h1v1h-1zM539 722h1v1h-1zM547 39h1v1h-1zM547 119h1v1h-1zM547 198h1v1h-1zM547 278h1v1h-1zM547 357h1v1h-1zM547 437h1v1h-1zM547 516h1v1h-1zM547 596h1v1h-1zM547 675h1v1h-1zM555 39h1v1h-1zM555 119h1v1h-1zM555 198h1v1h-1zM555 278h1v1h-1zM555 357h1v1h-1zM555 437h1v1h-1zM555 516h1v1h-1zM555 596h1v1h-1zM555 675h1v1h-1zM563 39h1v1h-1zM563 119h1v1h-1zM563 198h1v1h-1zM563 278h1v1h-1zM563 357h1v1h-1zM563 437h1v1h-1zM563 516h1v1h-1zM563 596h1v1h-1zM563 675h1v1h-1zM571 39h1v1h-1zM571 119h1v1h-1zM571 198h1v1h-1zM571 278h1v1h-1zM571 357h1v1h-1zM571 437h1v1h-1zM571 516h1v1h-1zM571 596h1v1h-1zM571 675h1v1h-1zM579 39h1v1h-1zM579 119h1v1h-1zM579 198h1v1h-1zM579 278h1v1h-1zM579 357h1v1h-1zM579 437h1v1h-1zM579 516h1v1h-1zM579 596h1v1h-1zM579 675h1v1h-1zM586 39h1v1h-1zM586 119h1v1h-1zM586 198h1v1h-1zM586 278h1v1h-1zM586 357h1v1h-1zM586 437h1v1h-1zM586 516h1v1h-1zM586 596h1v1h-1zM586 675h1v1h-1zM594 39h1v1h-1zM594 119h1v1h-1zM594 198h1v1h-1zM594 278h1v1h-1zM594 357h1v1h-1zM594 437h1v1h-1zM594 516h1v1h-1zM594 596h1v1h-1zM594 675h1v1h-1zM602 39h1v1h-1zM602 119h1v1h-1zM602 198h1v1h-1zM602 278h1v1h-1zM602 357h1v1h-1zM602 437h1v1h-1zM602 516h1v1h-1zM602 596h1v1h-1zM602 675h1v1h-1zM610 39h1v1h-1zM610 119h1v1h-1zM610 198h1v1h-1zM610 278h1v1h-1zM610 357h1v1h-1zM610 437h1v1h-1zM610 516h1v1h-1zM610 596h1v1h-1zM610 675h1v1h-1zM618 7h1v1h-1zM618 15h1v1h-1zM618 23h1v1h-1zM618 31h1v1h-1zM618 39h1v1h-1zM618 47h1v1h-1zM618 55h1v1h-1zM618 63h1v1h-1zM618 71h1v1h-1zM618 79h1v1h-1zM618 87h1v1h-1zM618 95h1v1h-1zM618 103h1v1h-1zM618 111h1v1h-1zM618 119h1v1h-1zM618 127h1v1h-1zM618 135h1v1h-1zM618 143h1v1h-1zM618 151h1v1h-1zM618 159h1v1h-1zM618 166h1v1h-1zM618 174h1v1h-1zM618 182h1v1h-1zM618 190h1v1h-1zM618 198h1v1h-1zM618 206h1v1h-1zM618 214h1v1h-1zM618 222h1v1h-1zM618 230h1v1h-1zM618 238h1v1h-1zM618 246h1v1h-1zM618 254h1v1h-1zM618 262h1v1h-1zM618 270h1v1h-1zM618 278h1v1h-1zM618 286h1v1h-1zM618 294h1v1h-1zM618 302h1v1h-1zM618 310h1v1h-1zM618 318h1v1h-1zM618 325h1v1h-1zM618 333h1v1h-1zM618 341h1v1h-1zM618 349h1v1h-1zM618 357h1v1h-1zM618 365h1v1h-1zM618 373h1v1h-1zM618 381h1v1h-1zM618 389h1v1h-1zM618 397h1v1h-1zM618 405h1v1h-1zM618 413h1v1h-1zM618 421h1v1h-1zM618 429h1v1h-1zM618 437h1v1h-1zM618 445h1v1h-1zM618 453h1v1h-1zM618 461h1v1h-1zM618 469h1v1h-1zM618 477h1v1h-1zM618 484h1v1h-1zM618 492h1v1h-1zM618 500h1v1h-1zM618 508h1v1h-1zM618 516h1v1h-1zM618 524h1v1h-1zM618 532h1v1h-1zM618 540h1v1h-1zM618 548h1v1h-1zM618 556h1v1h-1zM618 564h1v1h-1zM618 572h1v1h-1zM618 580h1v1h-1zM618 588h1v1h-1zM618 596h1v1h-1zM618 604h1v1h-1zM618 612h1v1h-1zM618 620h1v1h-1zM618 628h1v1h-1zM618 636h1v1h-1zM618 643h1v1h-1zM618 651h1v1h-1zM618 659h1v1h-1zM618 667h1v1h-1zM618 675h1v1h-1zM618 683h1v1h-1zM618 691h1v1h-1zM618 698h1v1h-1zM618 706h1v1h-1zM618 714h1v1h-1zM618 722h1v1h-1zM626 39h1v1h-1zM626 119h1v1h-1zM626 198h1v1h-1zM626 278h1v1h-1zM626 357h1v1h-1zM626 437h1v1h-1zM626 516h1v1h-1zM626 596h1v1h-1zM626 675h1v1h-1zM634 39h1v1h-1zM634 119h1v1h-1zM634 198h1v1h-1zM634 278h1v1h-1zM634 357h1v1h-1zM634 437h1v1h-1zM634 516h1v1h-1zM634 596h1v1h-1zM634 675h1v1h-1zM642 39h1v1h-1zM642 119h1v1h-1zM642 198h1v1h-1zM642 278h1v1h-1zM642 357h1v1h-1zM642 437h1v1h-1zM642 516h1v1h-1zM642 596h1v1h-1zM642 675h1v1h-1zM650 39h1v1h-1zM650 119h1v1h-1zM650 198h1v1h-1zM650 278h1v1h-1zM650 357h1v1h-1zM650 437h1v1h-1zM650 516h1v1h-1zM650 596h1v1h-1zM650 675h1v1h-1zM658 39h1v1h-1zM658 119h1v1h-1zM658 198h1v1h-1zM658 278h1v1h-1zM658 357h1v1h-1zM658 437h1v1h-1zM658 516h1v1h-1zM658 596h1v1h-1zM658 675h1v1h-1zM666 39h1v1h-1zM666 119h1v1h-1zM666 198h1v1h-1zM666 278h1v1h-1zM666 357h1v1h-1zM666 437h1v1h-1zM666 516h1v1h-1zM666 596h1v1h-1zM666 675h1v1h-1zM674 39h1v1h-1zM674 119h1v1h-1zM674 198h1v1h-1zM674 278h1v1h-1zM674 357h1v1h-1zM674 437h1v1h-1zM674 516h1v1h-1zM674 596h1v1h-1zM674 675h1v1h-1zM682 39h1v1h-1zM682 119h1v1h-1zM682 198h1v1h-1zM682 278h1v1h-1zM682 357h1v1h-1zM682 437h1v1h-1zM682 516h1v1h-1zM682 596h1v1h-1zM682 675h1v1h-1zM690 39h1v1h-1zM690 119h1v1h-1zM690 198h1v1h-1zM690 278h1v1h-1zM690 357h1v1h-1zM690 437h1v1h-1zM690 516h1v1h-1zM690 596h1v1h-1zM690 675h1v1h-1zM698 7h1v1h-1zM698 15h1v1h-1zM698 23h1v1h-1zM698 31h1v1h-1zM698 39h1v1h-1zM698 47h1v1h-1zM698 55h1v1h-1zM698 63h1v1h-1zM698 71h1v1h-1zM698 79h1v1h-1zM698 87h1v1h-1zM698 95h1v1h-1zM698 103h1v1h-1zM698 111h1v1h-1zM698 119h1v1h-1zM698 127h1v1h-1zM698 135h1v1h-1zM698 143h1v1h-1zM698 151h1v1h-1zM698 159h1v1h-1zM698 166h1v1h-1zM698 174h1v1h-1zM698 182h1v1h-1zM698 190h1v1h-1zM698 198h1v1h-1zM698 206h1v1h-1zM698 214h1v1h-1zM698 222h1v1h-1zM698 230h1v1h-1zM698 238h1v1h-1zM698 246h1v1h-1zM698 254h1v1h-1zM698 262h1v1h-1zM698 270h1v1h-1zM698 278h1v1h-1zM698 286h1v1h-1zM698 294h1v1h-1zM698 302h1v1h-1zM698 310h1v1h-1zM698 318h1v1h-1zM698 325h1v1h-1zM698 333h1v1h-1zM698 341h1v1h-1zM698 349h1v1h-1zM698 357h1v1h-1zM698 365h1v1h-1zM698 373h1v1h-1zM698 381h1v1h-1zM698 389h1v1h-1zM698 397h1v1h-1zM698 405h1v1h-1zM698 413h1v1h-1zM698 421h1v1h-1zM698 429h1v1h-1zM698 437h1v1h-1zM698 445h1v1h-1zM698 453h1v1h-1zM698 461h1v1h-1zM698 469h1v1h-1zM698 477h1v1h-1zM698 484h1v1h-1zM698 492h1v1h-1zM698 500h1v1h-1zM698 508h1v1h-1zM698 516h1v1h-1zM698 524h1v1h-1zM698 532h1v1h-1zM698 540h1v1h-1zM698 548h1v1h-1zM698 556h1v1h-1zM698 564h1v1h-1zM698 572h1v1h-1zM698 580h1v1h-1zM698 588h1v1h-1zM698 596h1v1h-1zM698 604h1v1h-1zM698 612h1v1h-1zM698 620h1v1h-1zM698 628h1v1h-1zM698 636h1v1h-1zM698 643h1v1h-1zM698 651h1v1h-1zM698 659h1v1h-1zM698 667h1v1h-1zM698 675h1v1h-1zM698 683h1v1h-1zM698 691h1v1h-1zM698 698h1v1h-1zM698 706h1v1h-1zM698 714h1v1h-1zM698 722h1v1h-1zM706 39h1v1h-1zM706 119h1v1h-1zM706 198h1v1h-1zM706 278h1v1h-1zM706 357h1v1h-1zM706 437h1v1h-1zM706 516h1v1h-1zM706 596h1v1h-1zM706 675h1v1h-1zM714 39h1v1h-1zM714 119h1v1h-1zM714 198h1v1h-1zM714 278h1v1h-1zM714 357h1v1h-1zM714 437h1v1h-1zM714 516h1v1h-1zM714 596h1v1h-1zM714 675h1v1h-1zM722 39h1v1h-1zM722 119h1v1h-1zM722 198h1v1h-1zM722 278h1v1h-1zM722 357h1v1h-1zM722 437h1v1h-1zM722 516h1v1h-1zM722 596h1v1h-1zM722 675h1v1h-1zM730 39h1v1h-1zM730 119h1v1h-1zM730 198h1v1h-1zM730 278h1v1h-1zM730 357h1v1h-1zM730 437h1v1h-1zM730 516h1v1h-1zM730 596h1v1h-1zM730 675h1v1h-1zM738 39h1v1h-1zM738 119h1v1h-1zM738 198h1v1h-1zM738 278h1v1h-1zM738 357h1v1h-1zM738 437h1v1h-1zM738 516h1v1h-1zM738 596h1v1h-1zM738 675h1v1h-1zM746 39h1v1h-1zM746 119h1v1h-1zM746 198h1v1h-1zM746 278h1v1h-1zM746 357h1v1h-1zM746 437h1v1h-1zM746 516h1v1h-1zM746 596h1v1h-1zM746 675h1v1h-1zM754 39h1v1h-1zM754 119h1v1h-1zM754 198h1v1h-1zM754 278h1v1h-1zM754 357h1v1h-1zM754 437h1v1h-1zM754 516h1v1h-1zM754 596h1v1h-1zM754 675h1v1h-1zM762 39h1v1h-1zM762 119h1v1h-1zM762 198h1v1h-1zM762 278h1v1h-1zM762 357h1v1h-1zM762 437h1v1h-1zM762 516h1v1h-1zM762 596h1v1h-1zM762 675h1v1h-1zM770 39h1v1h-1zM770 119h1v1h-1zM770 198h1v1h-1zM770 278h1v1h-1zM770 357h1v1h-1zM770 437h1v1h-1zM770 516h1v1h-1zM770 596h1v1h-1zM770 675h1v1h-1zM778 7h1v1h-1zM778 15h1v1h-1zM778 23h1v1h-1zM778 31h1v1h-1zM778 39h1v1h-1zM778 47h1v1h-1zM778 55h1v1h-1zM778 63h1v1h-1zM778 71h1v1h-1zM778 79h1v1h-1zM778 87h1v1h-1zM778 95h1v1h-1zM778 103h1v1h-1zM778 111h1v1h-1zM778 119h1v1h-1zM778 127h1v1h-1zM778 135h1v1h-1zM778 143h1v1h-1zM778 151h1v1h-1zM778 159h1v1h-1zM778 166h1v1h-1zM778 174h1v1h-1zM778 182h1v1h-1zM778 190h1v1h-1zM778 198h1v1h-1zM778 206h1v1h-1zM778 214h1v1h-1zM778 222h1v1h-1zM778 230h1v1h-1zM778 238h1v1h-1zM778 246h1v1h-1zM778 254h1v1h-1zM778 262h1v1h-1zM778 270h1v1h-1zM778 278h1v1h-1zM778 286h1v1h-1zM778 294h1v1h-1zM778 302h1v1h-1zM778 310h1v1h-1zM778 318h1v1h-1zM778 325h1v1h-1zM778 333h1v1h-1zM778 341h1v1h-1zM778 349h1v1h-1zM778 357h1v1h-1zM778 365h1v1h-1zM778 373h1v1h-1zM778 381h1v1h-1zM778 389h1v1h-1zM778 397h1v1h-1zM778 405h1v1h-1zM778 413h1v1h-1zM778 421h1v1h-1zM778 429h1v1h-1zM778 437h1v1h-1zM778 445h1v1h-1zM778 453h1v1h-1zM778 461h1v1h-1zM778 469h1v1h-1zM778 477h1v1h-1zM778 484h1v1h-1zM778 492h1v1h-1zM778 500h1v1h-1zM778 508h1v1h-1zM778 516h1v1h-1zM778 524h1v1h-1zM778 532h1v1h-1zM778 540h1v1h-1zM778 548h1v1h-1zM778 556h1v1h-1zM778 564h1v1h-1zM778 572h1v1h-1zM778 580h1v1h-1zM778 588h1v1h-1zM778 596h1v1h-1zM778 604h1v1h-1zM778 612h1v1h-1zM778 620h1v1h-1zM778 628h1v1h-1zM778 636h1v1h-1zM778 643h1v1h-1zM778 651h1v1h-1zM778 659h1v1h-1zM778 667h1v1h-1zM778 675h1v1h-1zM778 683h1v1h-1zM778 691h1v1h-1zM778 698h1v1h-1zM778 706h1v1h-1zM778 714h1v1h-1zM778 722h1v1h-1zM786 39h1v1h-1zM786 119h1v1h-1zM786 198h1v1h-1zM786 278h1v1h-1zM786 357h1v1h-1zM786 437h1v1h-1zM786 516h1v1h-1zM786 596h1v1h-1zM786 675h1v1h-1zM794 39h1v1h-1zM794 119h1v1h-1zM794 198h1v1h-1zM794 278h1v1h-1zM794 357h1v1h-1zM794 437h1v1h-1zM794 516h1v1h-1zM794 596h1v1h-1zM794 675h1v1h-1zM802 39h1v1h-1zM802 119h1v1h-1zM802 198h1v1h-1zM802 278h1v1h-1zM802 357h1v1h-1zM802 437h1v1h-1zM802 516h1v1h-1zM802 596h1v1h-1zM802 675h1v1h-1zM810 39h1v1h-1zM810 119h1v1h-1zM810 198h1v1h-1zM810 278h1v1h-1zM810 357h1v1h-1zM810 437h1v1h-1zM810 516h1v1h-1zM810 596h1v1h-1zM810 675h1v1h-1zM818 39h1v1h-1zM818 119h1v1h-1zM818 198h1v1h-1zM818 278h1v1h-1zM818 357h1v1h-1zM818 437h1v1h-1zM818 516h1v1h-1zM818 596h1v1h-1zM818 675h1v1h-1zM825 39h1v1h-1zM825 119h1v1h-1zM825 198h1v1h-1zM825 278h1v1h-1zM825 357h1v1h-1zM825 437h1v1h-1zM825 516h1v1h-1zM825 596h1v1h-1zM825 675h1v1h-1zM833 39h1v1h-1zM833 119h1v1h-1zM833 198h1v1h-1zM833 278h1v1h-1zM833 357h1v1h-1zM833 437h1v1h-1zM833 516h1v1h-1zM833 596h1v1h-1zM833 675h1v1h-1zM841 39h1v1h-1zM841 119h1v1h-1zM841 198h1v1h-1zM841 278h1v1h-1zM841 357h1v1h-1zM841 437h1v1h-1zM841 516h1v1h-1zM841 596h1v1h-1zM841 675h1v1h-1zM849 39h1v1h-1zM849 119h1v1h-1zM849 198h1v1h-1zM849 278h1v1h-1zM849 357h1v1h-1zM849 437h1v1h-1zM849 516h1v1h-1zM849 596h1v1h-1zM849 675h1v1h-1zM857 7h1v1h-1zM857 15h1v1h-1zM857 23h1v1h-1zM857 31h1v1h-1zM857 39h1v1h-1zM857 47h1v1h-1zM857 55h1v1h-1zM857 63h1v1h-1zM857 71h1v1h-1zM857 79h1v1h-1zM857 87h1v1h-1zM857 95h1v1h-1zM857 103h1v1h-1zM857 111h1v1h-1zM857 119h1v1h-1zM857 127h1v1h-1zM857 135h1v1h-1zM857 143h1v1h-1zM857 151h1v1h-1zM857 159h1v1h-1zM857 166h1v1h-1zM857 174h1v1h-1zM857 182h1v1h-1zM857 190h1v1h-1zM857 198h1v1h-1zM857 206h1v1h-1zM857 214h1v1h-1zM857 222h1v1h-1zM857 230h1v1h-1zM857 238h1v1h-1zM857 246h1v1h-1zM857 254h1v1h-1zM857 262h1v1h-1zM857 270h1v1h-1zM857 278h1v1h-1zM857 286h1v1h-1zM857 294h1v1h-1zM857 302h1v1h-1zM857 310h1v1h-1zM857 318h1v1h-1zM857 325h1v1h-1zM857 333h1v1h-1zM857 341h1v1h-1zM857 349h1v1h-1zM857 357h1v1h-1zM857 365h1v1h-1zM857 373h1v1h-1zM857 381h1v1h-1zM857 389h1v1h-1zM857 397h1v1h-1zM857 405h1v1h-1zM857 413h1v1h-1zM857 421h1v1h-1zM857 429h1v1h-1zM857 437h1v1h-1zM857 445h1v1h-1zM857 453h1v1h-1zM857 461h1v1h-1zM857 469h1v1h-1zM857 477h1v1h-1zM857 484h1v1h-1zM857 492h1v1h-1zM857 500h1v1h-1zM857 508h1v1h-1zM857 516h1v1h-1zM857 524h1v1h-1zM857 532h1v1h-1zM857 540h1v1h-1zM857 548h1v1h-1zM857 556h1v1h-1zM857 564h1v1h-1zM857 572h1v1h-1zM857 580h1v1h-1zM857 588h1v1h-1zM857 596h1v1h-1zM857 604h1v1h-1zM857 612h1v1h-1zM857 620h1v1h-1zM857 628h1v1h-1zM857 636h1v1h-1zM857 643h1v1h-1zM857 651h1v1h-1zM857 659h1v1h-1zM857 667h1v1h-1zM857 675h1v1h-1zM857 683h1v1h-1zM857 691h1v1h-1zM857 698h1v1h-1zM857 706h1v1h-1zM857 714h1v1h-1zM857 722h1v1h-1zM865 39h1v1h-1zM865 119h1v1h-1zM865 198h1v1h-1zM865 278h1v1h-1zM865 357h1v1h-1zM865 437h1v1h-1zM865 516h1v1h-1zM865 596h1v1h-1zM865 675h1v1h-1zM873 39h1v1h-1zM873 119h1v1h-1zM873 198h1v1h-1zM873 278h1v1h-1zM873 357h1v1h-1zM873 437h1v1h-1zM873 516h1v1h-1zM873 596h1v1h-1zM873 675h1v1h-1zM881 39h1v1h-1zM881 119h1v1h-1zM881 198h1v1h-1zM881 278h1v1h-1zM881 357h1v1h-1zM881 437h1v1h-1zM881 516h1v1h-1zM881 596h1v1h-1zM881 675h1v1h-1zM889 39h1v1h-1zM889 119h1v1h-1zM889 198h1v1h-1zM889 278h1v1h-1zM889 357h1v1h-1zM889 437h1v1h-1zM889 516h1v1h-1zM889 596h1v1h-1zM889 675h1v1h-1zM897 39h1v1h-1zM897 119h1v1h-1zM897 198h1v1h-1zM897 278h1v1h-1zM897 357h1v1h-1zM897 437h1v1h-1zM897 516h1v1h-1zM897 596h1v1h-1zM897 675h1v1h-1zM905 39h1v1h-1zM905 119h1v1h-1zM905 198h1v1h-1zM905 278h1v1h-1zM905 357h1v1h-1zM905 437h1v1h-1zM905 516h1v1h-1zM905 596h1v1h-1zM905 675h1v1h-1zM913 39h1v1h-1zM913 119h1v1h-1zM913 198h1v1h-1zM913 278h1v1h-1zM913 357h1v1h-1zM913 437h1v1h-1zM913 516h1v1h-1zM913 596h1v1h-1zM913 675h1v1h-1zM921 39h1v1h-1zM921 119h1v1h-1zM921 198h1v1h-1zM921 278h1v1h-1zM921 357h1v1h-1zM921 437h1v1h-1zM921 516h1v1h-1zM921 596h1v1h-1zM921 675h1v1h-1zM929 39h1v1h-1zM929 119h1v1h-1zM929 198h1v1h-1zM929 278h1v1h-1zM929 357h1v1h-1zM929 437h1v1h-1zM929 516h1v1h-1zM929 596h1v1h-1zM929 675h1v1h-1zM937 7h1v1h-1zM937 15h1v1h-1zM937 23h1v1h-1zM937 31h1v1h-1zM937 39h1v1h-1zM937 47h1v1h-1zM937 55h1v1h-1zM937 63h1v1h-1zM937 71h1v1h-1zM937 79h1v1h-1zM937 87h1v1h-1zM937 95h1v1h-1zM937 103h1v1h-1zM937 111h1v1h-1zM937 119h1v1h-1zM937 127h1v1h-1zM937 135h1v1h-1zM937 143h1v1h-1zM937 151h1v1h-1zM937 159h1v1h-1zM937 166h1v1h-1zM937 174h1v1h-1zM937 182h1v1h-1zM937 190h1v1h-1zM937 198h1v1h-1zM937 206h1v1h-1zM937 214h1v1h-1zM937 222h1v1h-1zM937 230h1v1h-1zM937 238h1v1h-1zM937 246h1v1h-1zM937 254h1v1h-1zM937 262h1v1h-1zM937 270h1v1h-1zM937 278h1v1h-1zM937 286h1v1h-1zM937 294h1v1h-1zM937 302h1v1h-1zM937 310h1v1h-1zM937 318h1v1h-1zM937 325h1v1h-1zM937 333h1v1h-1zM937 341h1v1h-1zM937 349h1v1h-1zM937 357h1v1h-1zM937 365h1v1h-1zM937 373h1v1h-1zM937 381h1v1h-1zM937 389h1v1h-1zM937 397h1v1h-1zM937 405h1v1h-1zM937 413h1v1h-1zM937 421h1v1h-1zM937 429h1v1h-1zM937 437h1v1h-1zM937 445h1v1h-1zM937 453h1v1h-1zM937 461h1v1h-1zM937 469h1v1h-1zM937 477h1v1h-1zM937 484h1v1h-1zM937 492h1v1h-1zM937 500h1v1h-1zM937 508h1v1h-1zM937 516h1v1h-1zM937 524h1v1h-1zM937 532h1v1h-1zM937 540h1v1h-1zM937 548h1v1h-1zM937 556h1v1h-1zM937 564h1v1h-1zM937 572h1v1h-1zM937 580h1v1h-1zM937 588h1v1h-1zM937 596h1v1h-1zM937 604h1v1h-1zM937 612h1v1h-1zM937 620h1v1h-1zM937 628h1v1h-1zM937 636h1v1h-1zM937 643h1v1h-1zM937 651h1v1h-1zM937 659h1v1h-1zM937 667h1v1h-1zM937 675h1v1h-1zM937 683h1v1h-1zM937 691h1v1h-1zM937 698h1v1h-1zM937 706h1v1h-1zM937 714h1v1h-1zM937 722h1v1h-1zM945 39h1v1h-1zM945 119h1v1h-1zM945 198h1v1h-1zM945 278h1v1h-1zM945 357h1v1h-1zM945 437h1v1h-1zM945 516h1v1h-1zM945 596h1v1h-1zM945 675h1v1h-1zM953 39h1v1h-1zM953 119h1v1h-1zM953 198h1v1h-1zM953 278h1v1h-1zM953 357h1v1h-1zM953 437h1v1h-1zM953 516h1v1h-1zM953 596h1v1h-1zM953 675h1v1h-1zM961 39h1v1h-1zM961 119h1v1h-1zM961 198h1v1h-1zM961 278h1v1h-1zM961 357h1v1h-1zM961 437h1v1h-1zM961 516h1v1h-1zM961 596h1v1h-1zM961 675h1v1h-1zM969 39h1v1h-1zM969 119h1v1h-1zM969 198h1v1h-1zM969 278h1v1h-1zM969 357h1v1h-1zM969 437h1v1h-1zM969 516h1v1h-1zM969 596h1v1h-1zM969 675h1v1h-1zM977 39h1v1h-1zM977 119h1v1h-1zM977 198h1v1h-1zM977 278h1v1h-1zM977 357h1v1h-1zM977 437h1v1h-1zM977 516h1v1h-1zM977 596h1v1h-1zM977 675h1v1h-1zM984 39h1v1h-1zM984 119h1v1h-1zM984 198h1v1h-1zM984 278h1v1h-1zM984 357h1v1h-1zM984 437h1v1h-1zM984 516h1v1h-1zM984 596h1v1h-1zM984 675h1v1h-1zM992 39h1v1h-1zM992 119h1v1h-1zM992 198h1v1h-1zM992 278h1v1h-1zM992 357h1v1h-1zM992 437h1v1h-1zM992 516h1v1h-1zM992 596h1v1h-1zM992 675h1v1h-1zM1000 39h1v1h-1zM1000 119h1v1h-1zM1000 198h1v1h-1zM1000 278h1v1h-1zM1000 357h1v1h-1zM1000 437h1v1h-1zM1000 516h1v1h-1zM1000 596h1v1h-1zM1000 675h1v1h-1zM1008 39h1v1h-1zM1008 119h1v1h-1zM1008 198h1v1h-1zM1008 278h1v1h-1zM1008 357h1v1h-1zM1008 437h1v1h-1zM1008 516h1v1h-1zM1008 596h1v1h-1zM1008 675h1v1h-1zM1016 7h1v1h-1zM1016 15h1v1h-1zM1016 23h1v1h-1zM1016 31h1v1h-1zM1016 39h1v1h-1zM1016 47h1v1h-1zM1016 55h1v1h-1zM1016 63h1v1h-1zM1016 71h1v1h-1zM1016 79h1v1h-1zM1016 87h1v1h-1zM1016 95h1v1h-1zM1016 103h1v1h-1zM1016 111h1v1h-1zM1016 119h1v1h-1zM1016 127h1v1h-1zM1016 135h1v1h-1zM1016 143h1v1h-1zM1016 151h1v1h-1zM1016 159h1v1h-1zM1016 166h1v1h-1zM1016 174h1v1h-1zM1016 182h1v1h-1zM1016 190h1v1h-1zM1016 198h1v1h-1zM1016 206h1v1h-1zM1016 214h1v1h-1zM1016 222h1v1h-1zM1016 230h1v1h-1zM1016 238h1v1h-1zM1016 246h1v1h-1zM1016 254h1v1h-1zM1016 262h1v1h-1zM1016 270h1v1h-1zM1016 278h1v1h-1zM1016 286h1v1h-1zM1016 294h1v1h-1zM1016 302h1v1h-1zM1016 310h1v1h-1zM1016 318h1v1h-1zM1016 325h1v1h-1zM1016 333h1v1h-1zM1016 341h1v1h-1zM1016 349h1v1h-1zM1016 357h1v1h-1zM1016 365h1v1h-1zM1016 373h1v1h-1zM1016 381h1v1h-1zM1016 389h1v1h-1zM1016 397h1v1h-1zM1016 405h1v1h-1zM1016 413h1v1h-1zM1016 421h1v1h-1zM1016 429h1v1h-1zM1016 437h1v1h-1zM1016 445h1v1h-1zM1016 453h1v1h-1zM1016 461h1v1h-1zM1016 469h1v1h-1zM1016 477h1v1h-1zM1016 484h1v1h-1zM1016 492h1v1h-1zM1016 500h1v1h-1zM1016 508h1v1h-1zM1016 516h1v1h-1zM1016 524h1v1h-1zM1016 532h1v1h-1zM1016 540h1v1h-1zM1016 548h1v1h-1zM1016 556h1v1h-1zM1016 564h1v1h-1zM1016 572h1v1h-1zM1016 580h1v1h-1zM1016 588h1v1h-1zM1016 596h1v1h-1zM1016 604h1v1h-1zM1016 612h1v1h-1zM1016 620h1v1h-1zM1016 628h1v1h-1zM1016 636h1v1h-1zM1016 643h1v1h-1zM1016 651h1v1h-1zM1016 659h1v1h-1zM1016 667h1v1h-1zM1016 675h1v1h-1zM1016 683h1v1h-1zM1016 691h1v1h-1zM1016 698h1v1h-1zM1016 706h1v1h-1zM1016 714h1v1h-1zM1016 722h1v1h-1zM1024 39h1v1h-1zM1024 119h1v1h-1zM1024 198h1v1h-1zM1024 278h1v1h-1zM1024 357h1v1h-1zM1024 437h1v1h-1zM1024 516h1v1h-1zM1024 596h1v1h-1zM1024 675h1v1h-1zM1032 39h1v1h-1zM1032 119h1v1h-1zM1032 198h1v1h-1zM1032 278h1v1h-1zM1032 357h1v1h-1zM1032 437h1v1h-1zM1032 516h1v1h-1zM1032 596h1v1h-1zM1032 675h1v1h-1zM1040 39h1v1h-1zM1040 119h1v1h-1zM1040 198h1v1h-1zM1040 278h1v1h-1zM1040 357h1v1h-1zM1040 437h1v1h-1zM1040 516h1v1h-1zM1040 596h1v1h-1zM1040 675h1v1h-1zM1048 39h1v1h-1zM1048 119h1v1h-1zM1048 198h1v1h-1zM1048 278h1v1h-1zM1048 357h1v1h-1zM1048 437h1v1h-1zM1048 516h1v1h-1zM1048 596h1v1h-1zM1048 675h1v1h-1zM1056 39h1v1h-1zM1056 119h1v1h-1zM1056 198h1v1h-1zM1056 278h1v1h-1zM1056 357h1v1h-1zM1056 437h1v1h-1zM1056 516h1v1h-1zM1056 596h1v1h-1zM1056 675h1v1h-1zM1064 39h1v1h-1zM1064 119h1v1h-1zM1064 198h1v1h-1zM1064 278h1v1h-1zM1064 357h1v1h-1zM1064 437h1v1h-1zM1064 516h1v1h-1zM1064 596h1v1h-1zM1064 675h1v1h-1zM1072 39h1v1h-1zM1072 119h1v1h-1zM1072 198h1v1h-1zM1072 278h1v1h-1zM1072 357h1v1h-1zM1072 437h1v1h-1zM1072 516h1v1h-1zM1072 596h1v1h-1zM1072 675h1v1h-1z"/>
</svg>
<div class="title j" style="width:151.8px;letter-spacing:0">平台主要功能</div>
</body></html>
